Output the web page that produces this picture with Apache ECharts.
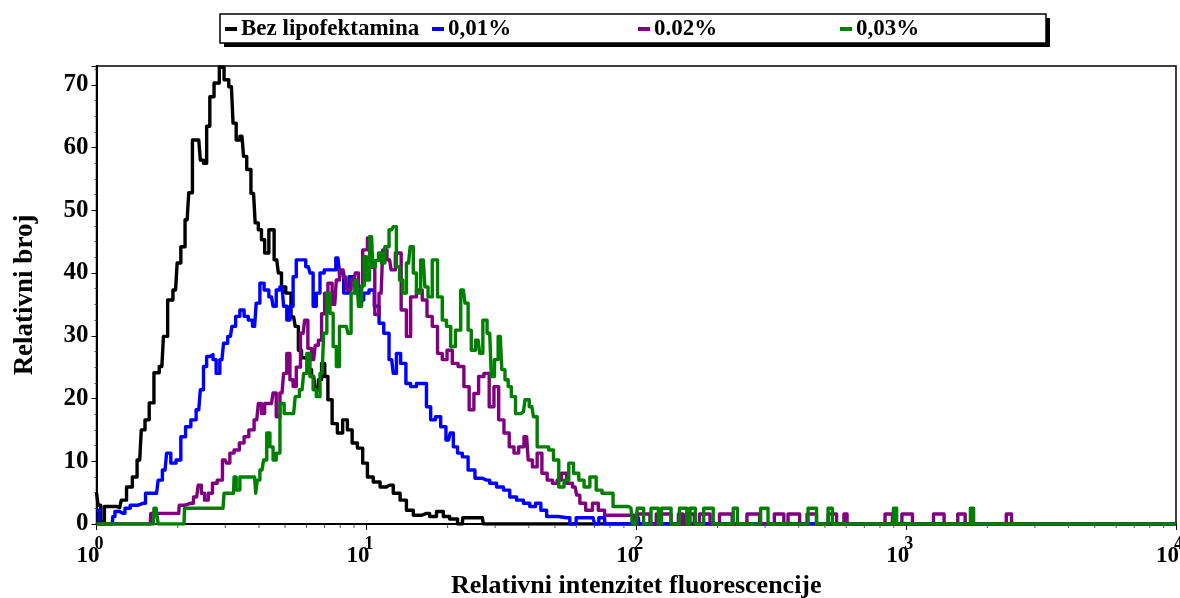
<!DOCTYPE html>
<html><head><meta charset="utf-8">
<script src="https://cdn.jsdelivr.net/npm/echarts@6/dist/echarts.min.js"></script>
<style>html,body{margin:0;padding:0;background:#fff}#c{width:1180px;height:598px}</style>
</head><body><div id="c"></div>
<script>
// 1024 channels over 4 decades (256 channels per decade); points are [channel, relative count]
const channelsPerDecade = 256;
const seriesNames = ['Bez lipofektamina', '0,01%', '0.02%', '0,03%'];
const seriesColors = ['#000000', '#0000ff', '#800080', '#008000'];
const xTickExponents = [0, 1, 2, 3, 4];

const bezLipofektamina = [[0,5],[3,3],[5,0.4],[10,2.8],[16,2.8],[22,2.6],[25,3.8],[32,5.9],[36,7.5],[41,10.2],[44,15],[48,16.6],[52,19.3],[57,24.1],[62,25.1],[65,29.9],[70,35.7],[75,37.3],[78,41.6],[82,44.2],[86,48.5],[89,52.8],[93,61.2],[97,61.2],[100,58],[103,57.5],[106,63.4],[109,68.1],[114,70.3],[119,72.8],[123,70.8],[128,69.7],[131,63.9],[134,61.2],[138,61.8],[141,58.6],[144,56.5],[149,52.7],[152,48],[155,46.9],[158,45.3],[161,43.2],[166,46.9],[171,42.1],[174,40],[177,37.8],[182,36.8],[187,33],[190,31.5],[193,27.7],[196,26.5],[199,26.2],[202,24.6],[206,23.5],[209,21.4],[212,23],[215,25.6],[218,23.5],[221,19.8],[226,16],[231,14.5],[236,16.6],[240,15],[245,12.9],[250,12.1],[255,9.7],[259,7.5],[266,6.7],[272,5.9],[278,6.2],[285,4.9],[291,3.8],[297,2.2],[304,1.4],[313,1.7],[319,1.2],[326,2.0],[332,1.2],[338,0.8],[347,0],[348,1.0],[366,1.0],[368,0],[1024,0]];

const lipo001 = [[0,2.2],[5,0],[15,0],[16,1.2],[19,2.0],[25,1.7],[29,2.5],[35,3.0],[44,3.3],[49,4.9],[57,4.9],[60,7.0],[65,8.6],[68,11.3],[73,9.7],[78,10.2],[82,13.9],[87,15.5],[92,16.6],[97,18.2],[100,21.4],[103,25.1],[106,26.7],[109,27],[112,26.2],[115,24],[119,26.2],[122,28.8],[127,29.9],[130,31.5],[134,33.1],[138,34.1],[142,33.1],[146,32.5],[150,31.5],[153,35.2],[157,38.4],[161,37.3],[166,36.2],[169,34.7],[172,37.3],[176,37.8],[179,34.7],[182,32.5],[185,34.7],[188,39.4],[191,42.1],[196,42.1],[201,41],[204,40],[207,34.7],[210,36.8],[214,40],[218,40.5],[225,40.5],[229,42.4],[232,40],[237,36.8],[242,39.4],[247,37.8],[251,35.7],[256,36.8],[261,37.3],[266,34.7],[270,32],[275,30.4],[280,26.2],[283,24],[286,27.2],[291,25.6],[296,22.4],[300,21.9],[307,22.4],[311,22.4],[315,18.7],[319,16.6],[324,17.1],[329,15.5],[334,13.4],[337,14.5],[340,12.3],[345,11.3],[349,10.7],[356,8.6],[362,7.3],[370,7.0],[376,6.5],[383,5.9],[389,5.4],[395,4.3],[402,3.8],[408,3.3],[414,2.8],[419,3.3],[424,2.2],[430,1.2],[446,1.0],[452,0],[458,1.0],[471,1.0],[474,0],[479,1.0],[485,0],[508,0],[509,1],[514,1],[515,0],[1024,0]];

const lipo002 = [[0,0],[51,0],[52,1.7],[78,1.7],[79,3.0],[89,3.3],[95,4.3],[98,6.2],[101,4.9],[104,3.8],[108,4.9],[112,6.5],[117,7.0],[122,10.2],[125,9.7],[128,11.3],[133,11.8],[138,12.9],[142,13.9],[147,15],[152,16.6],[155,19.2],[158,17.6],[161,19.2],[166,19.2],[169,20.9],[172,17.1],[176,20.9],[179,24],[182,27.2],[185,23],[188,21.9],[191,25],[196,30.4],[199,32.5],[202,28],[206,26.2],[209,28.5],[212,29.3],[215,33.5],[218,36.8],[221,38.4],[226,35],[229,38.9],[232,40.5],[236,39.4],[239,37.3],[244,38.9],[247,40],[250,37.8],[255,43.7],[259,45.6],[262,40.9],[266,33.4],[270,36.8],[273,43.7],[278,42.1],[281,40.5],[286,43.2],[292,34.1],[296,29.9],[300,36.2],[307,37.3],[311,35.7],[316,33.1],[321,31.5],[326,27.2],[330,26.2],[335,27.7],[340,25.6],[346,25.1],[351,21.9],[356,18.2],[360,20.8],[365,23.5],[370,24],[375,18.7],[379,21.9],[384,16.6],[389,14.5],[394,12.3],[398,11.3],[403,12.3],[408,13.9],[411,10.2],[416,9.1],[420,11.3],[425,8.1],[430,7.0],[435,6.5],[439,7.0],[443,8.1],[449,6.5],[454,5.9],[457,4.6],[460,3.3],[468,2.2],[473,3.3],[479,2.2],[485,1.4],[510,1.4],[510,0],[513,0],[513,1.6],[525,1.6],[525,0],[531,0],[531,1.6],[545,1.6],[545,0],[552,0],[552,1.6],[556,1.6],[556,0],[559,0],[559,1.6],[567,1.6],[567,0],[572,0],[572,1.6],[582,1.6],[582,0],[591,0],[591,1.6],[603,1.6],[603,0],[617,0],[617,1.6],[629,1.6],[629,0],[643,0],[643,1.6],[652,1.6],[652,0],[656,0],[656,1.6],[667,1.6],[667,0],[674,0],[674,1.6],[683,1.6],[683,0],[694,0],[694,1.6],[702,1.6],[702,0],[709,0],[709,1.6],[712,1.6],[712,0],[748,0],[748,1.6],[755,1.6],[755,0],[764,0],[764,1.6],[774,1.6],[774,0],[794,0],[794,1.6],[804,1.6],[804,0],[817,0],[817,1.6],[824,1.6],[824,0],[863,0],[863,1.6],[868,1.6],[868,0],[1024,0]];

const lipo003 = [[0,0],[54,0],[55,2.5],[58,2.5],[59,0],[83,0],[84,2.5],[120,2.5],[122,4.9],[130,4.9],[131,7.5],[134,5.4],[138,7.5],[150,7.5],[152,4.9],[153,7.0],[157,8.6],[160,10.2],[163,14.5],[166,12.3],[169,10.2],[172,11.3],[176,19.2],[180,17.6],[187,17.6],[190,20.3],[195,21.4],[198,24],[201,27.2],[204,23.5],[207,21.4],[210,20.3],[214,24],[217,30.4],[220,36.8],[223,33.6],[226,28.3],[229,25.1],[232,31.5],[237,31.5],[240,30.4],[243,36.8],[247,38.9],[250,34.7],[253,38],[255,42.6],[257,38.9],[261,45.8],[263,41],[266,42],[269,43.2],[272,41.6],[275,44.2],[280,46.9],[283,47.4],[286,41],[289,38.9],[292,36.8],[296,41.6],[299,44.2],[302,40],[305,36.8],[310,42.1],[313,37.8],[316,36.2],[321,42.1],[326,36.2],[330,32.5],[334,31.5],[338,28.3],[343,30.9],[348,37.3],[351,35.2],[354,30.9],[357,27.7],[362,29.3],[365,27.2],[368,32.5],[373,30.4],[376,23.5],[379,26.2],[383,29.9],[386,24.6],[389,23],[392,21.9],[395,20.3],[400,17.6],[405,17.9],[408,19.8],[413,18.7],[416,17.1],[420,12.3],[427,12.3],[431,11.8],[436,10.2],[441,5.9],[446,7],[450,9.7],[455,8.1],[460,7],[465,5.9],[471,7.5],[477,5.4],[482,4.9],[487,4.9],[493,2.8],[503,2.8],[507,2.5],[510,0],[513,0],[513,2.5],[519,2.5],[519,0],[526,0],[526,2.5],[533,2.5],[533,0],[536,0],[536,2.5],[545,2.5],[545,0],[553,0],[553,2.5],[560,2.5],[560,0],[563,0],[563,2.5],[568,2.5],[568,0],[576,0],[576,2.5],[585,2.5],[585,0],[604,0],[604,2.5],[608,2.5],[608,0],[630,0],[630,2.5],[637,2.5],[637,0],[675,0],[675,2.5],[683,2.5],[683,0],[694,0],[694,2.5],[698,2.5],[698,0],[756,0],[756,2.5],[759,2.5],[759,0],[829,0],[829,2.5],[832,2.5],[832,0],[1024,0]];

const seriesData = [bezLipofektamina, lipo001, lipo002, lipo003];
const legendLefts = [225, 432, 638, 840];

const FONT = "'Liberation Serif', 'DejaVu Serif', serif";
const toPoints = arr => arr.map(p => [Math.pow(10, p[0] / channelsPerDecade), p[1]]);

const minorTicks = [];
for (let e = 0; e < 4; e++) for (let m = 2; m <= 9; m++) minorTicks.push(m * Math.pow(10, e));

const chart = echarts.init(document.getElementById('c'), null, {renderer: 'canvas'});

const lineSeries = seriesNames.map((name, i) => ({
  name, type: 'line', data: toPoints(seriesData[i]), step: 'middle',
  showSymbol: false, symbol: 'none', z: 3 + i,
  lineStyle: {color: seriesColors[i], width: 3.4, join: 'round'},
  itemStyle: {color: seriesColors[i]},
  emphasis: {disabled: true}
}));

const option = {
  animation: false,
  backgroundColor: '#ffffff',
  grid: {left: 96.5, right: 4, top: 66, bottom: 74, show: true, borderColor: '#000', borderWidth: 1.5, outerBoundsMode: 'none'},
  graphic: [
    {type: 'rect', shape: {x: 224, y: 18, width: 826, height: 29}, style: {fill: '#000'}, z: 0},
    {type: 'rect', shape: {x: 220, y: 14, width: 826, height: 29}, style: {fill: '#fff', stroke: '#000', lineWidth: 1.5}, z: 1}
  ],
  legend: seriesNames.map((name, i) => ({
    data: [{name, icon: 'rect'}], left: legendLefts[i], top: 17, padding: 0,
    itemWidth: 12, itemHeight: 4, itemGap: 0, selectedMode: false, z: 10,
    textStyle: {fontFamily: FONT, fontWeight: 'bold', fontSize: 23, color: '#000', lineHeight: 24, padding: [0, 0, 0, -1]}
  })),
  xAxis: {
    type: 'log', logBase: 10, min: 1, max: 10000,
    name: 'Relativni intenzitet fluorescencije', nameLocation: 'middle', nameGap: 48,
    nameTextStyle: {fontFamily: FONT, fontWeight: 'bold', fontSize: 26, color: '#000'},
    axisLine: {show: true, lineStyle: {color: '#000', width: 2}},
    axisTick: {show: true, length: 6, lineStyle: {color: '#000', width: 1}},
    splitLine: {show: false},
    axisLabel: {
      margin: 11, color: '#000',
      formatter: v => '{b|10}{s|' + Math.round(Math.log10(v)) + '}{p| }',
      rich: {
        b: {fontFamily: FONT, fontWeight: 'bold', fontSize: 23, lineHeight: 33, verticalAlign: 'bottom', width: 18, align: 'left', color: '#000'},
        s: {fontFamily: FONT, fontWeight: 'bold', fontSize: 18, lineHeight: 18, verticalAlign: 'top', width: 8, align: 'left', color: '#000'},
        p: {width: 14, fontSize: 10}
      }
    }
  },
  yAxis: {
    type: 'value', min: 0, max: 73, interval: 10,
    name: 'Relativni broj', nameLocation: 'middle', nameGap: 58, nameRotate: 90,
    nameTextStyle: {fontFamily: FONT, fontWeight: 'bold', fontSize: 27, color: '#000'},
    axisLine: {show: true, lineStyle: {color: '#000', width: 2}},
    axisTick: {show: true, length: 5, lineStyle: {color: '#000', width: 1}},
    minorTick: {show: true, splitNumber: 4, length: 2, lineStyle: {color: '#555', width: 1}},
    splitLine: {show: false}, minorSplitLine: {show: false},
    axisLabel: {margin: 8, showMaxLabel: false, fontFamily: FONT, fontWeight: 'bold', fontSize: 25, color: '#000'}
  },
  series: [
    ...lineSeries,
    {
      type: 'custom', silent: true, clip: false, z: 20,
      data: minorTicks.map(v => [v, 0]),
      renderItem: (params, api) => {
        const p = api.coord([api.value(0), 0]);
        return {type: 'line', shape: {x1: p[0], y1: p[1] + 1, x2: p[0], y2: p[1] + 4}, style: {stroke: '#555', lineWidth: 1}};
      }
    }
  ]
};
chart.setOption(option);
</script>
</body></html>
